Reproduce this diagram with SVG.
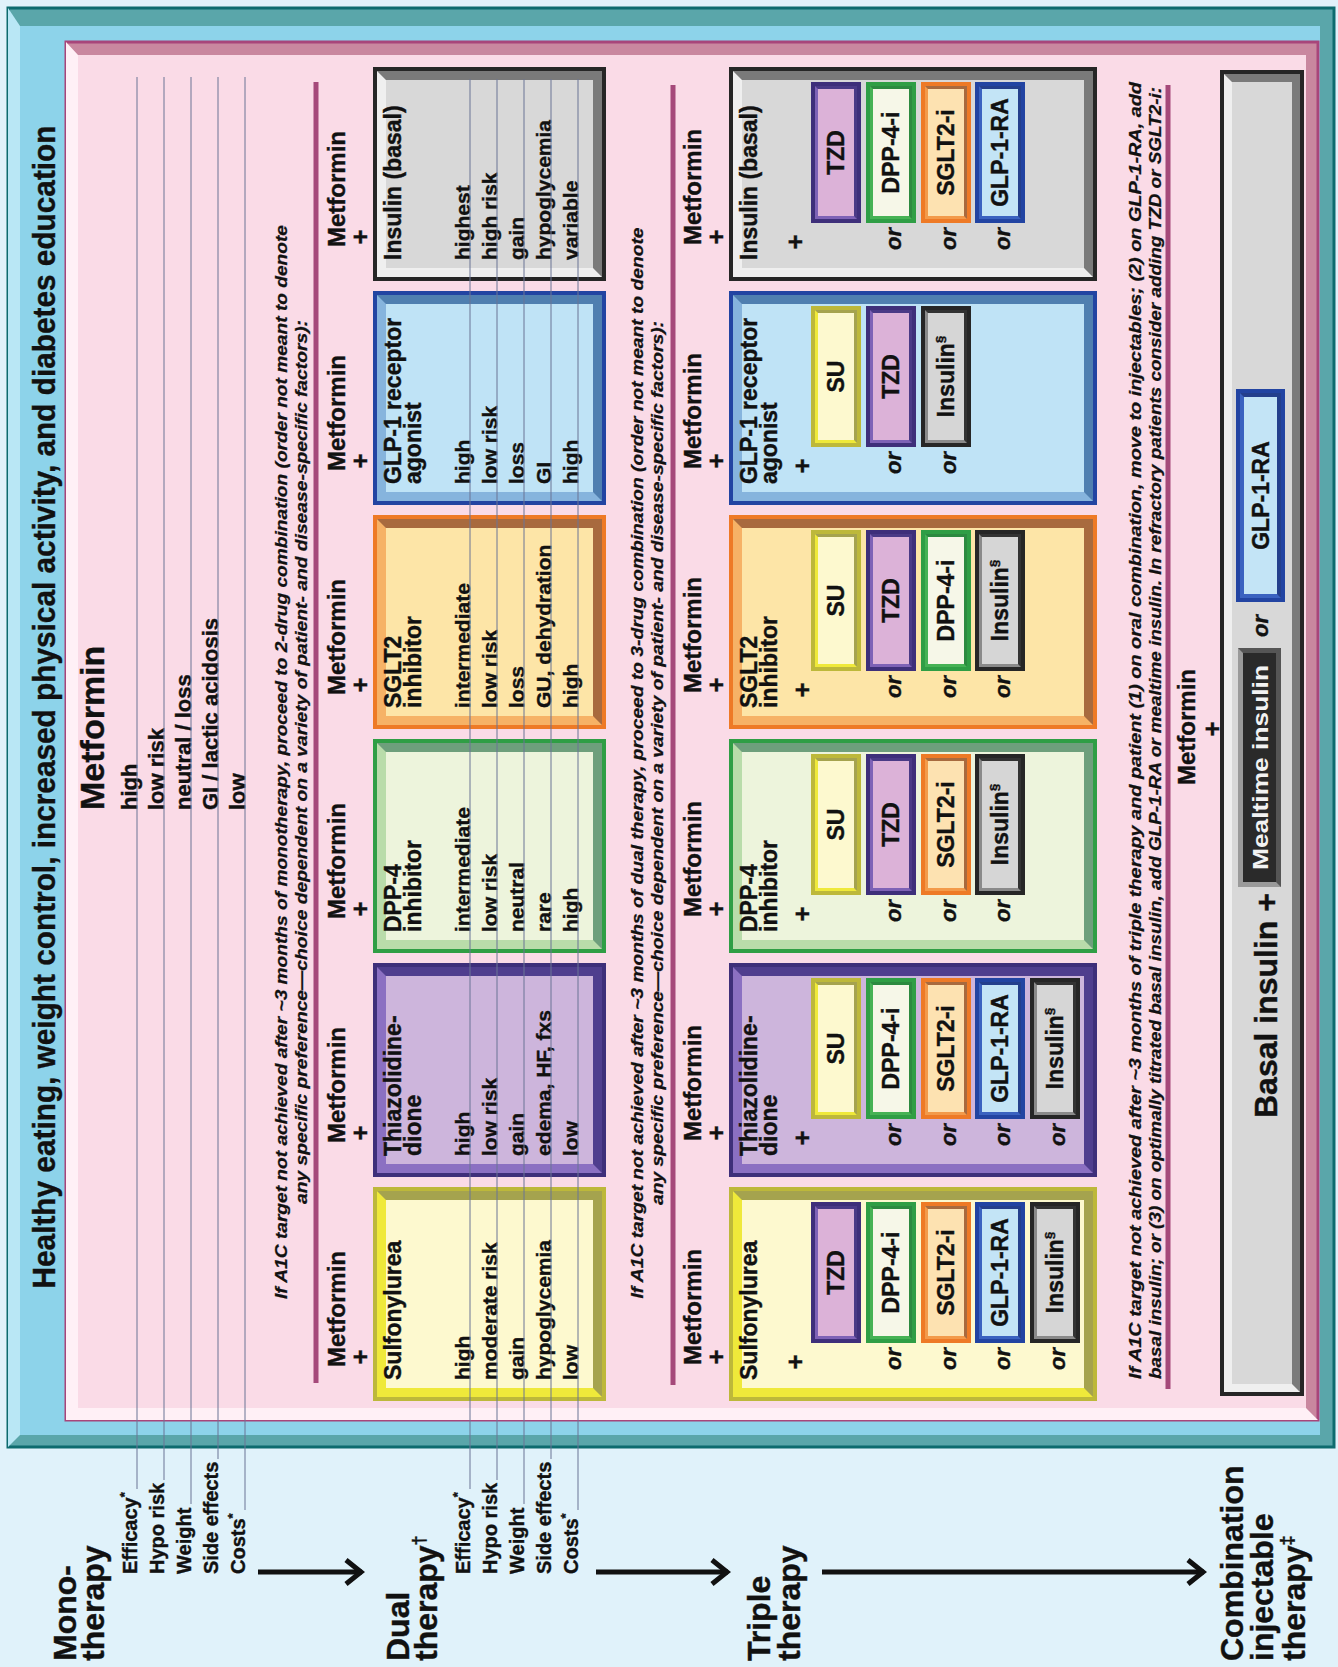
<svg xmlns="http://www.w3.org/2000/svg" width="1338" height="1667" viewBox="0 0 1338 1667">
<defs>
<style>
text{font-family:"Liberation Sans",Arial,Helvetica,sans-serif;font-weight:bold;fill:#111;stroke:#111;stroke-width:0.4}
.sec{font-size:32px}
.lab{font-size:20px}
.mv{font-size:22px}
.val{font-size:21px}
.ttl{font-size:23px}
.hd{font-size:24px}
.pl{font-size:26px;text-anchor:middle}
.sb{font-size:23px;text-anchor:middle}
.or{font-size:22px;font-style:italic;text-anchor:middle}
.note{font-size:17px;font-style:italic;stroke-width:0.25}
.gl{stroke:#6b7595;stroke-width:1;fill:none}
.sep{stroke:#a5497a;stroke-width:5}
.arr{stroke:#111;stroke-width:5;fill:none}
.b{fill:none;stroke-width:4}
.s .b{stroke-width:4}
.su .o{fill:#a5a34e}.su .l{fill:#efe93a}.su .i{fill:#fdf9cf}.su .b{stroke:#bdb83a}
.tzd .o{fill:#4f3e8e}.tzd .l{fill:#8b70c2}.tzd .i{fill:#cdb5dc}.tzd .b{stroke:#3e2f7a}
.dpp .o{fill:#6e9f7c}.dpp .l{fill:#b9dcaa}.dpp .i{fill:#edf4dc}.dpp .b{stroke:#2f9e45}
.sglt .o{fill:#a86a3e}.sglt .l{fill:#f6b266}.sglt .i{fill:#fde5a7}.sglt .b{stroke:#ee7a26}
.glp .o{fill:#4f7fb0}.glp .l{fill:#86b4dd}.glp .i{fill:#bfe3f6}.glp .b{stroke:#2244a2}
.ins .o{fill:#7a7a7a}.ins .l{fill:#efefef}.ins .i{fill:#d8d8d8}.ins .b{stroke:#262626}
.s.su .o{fill:#a5a34e}.s.su .l{fill:#efe93a}.s.su .i{fill:#fdf9cf}.s.su .b{stroke:#bdb83a}
.s.tzd .o{fill:#4a3a86}.s.tzd .l{fill:#7e62b6}.s.tzd .i{fill:#dcb2d8}.s.tzd .b{stroke:#3e2f7a}
.s.dpp .o{fill:#2c8a40}.s.dpp .l{fill:#46b255}.s.dpp .i{fill:#f6f7e8}.s.dpp .b{stroke:#2f9e45}
.s.sglt .o{fill:#a86a3e}.s.sglt .l{fill:#f39a4a}.s.sglt .i{fill:#fde2b1}.s.sglt .b{stroke:#ee7a26}
.s.glp .o{fill:#243f8c}.s.glp .l{fill:#3a62c0}.s.glp .i{fill:#c3e4f6}.s.glp .b{stroke:#2244a2}
.s.ins .o{fill:#333}.s.ins .l{fill:#8a8a8a}.s.ins .i{fill:#d6d6d6}.s.ins .b{stroke:#262626}
</style>
<marker id="ah" viewBox="0 0 24 28" refX="21" refY="14" markerWidth="24" markerHeight="28" markerUnits="userSpaceOnUse" orient="auto">
<path d="M5,2 L20,14 L5,26" fill="none" stroke="#111" stroke-width="5"/>
</marker>
</defs>
<rect x="0" y="0" width="1338" height="1667" fill="#e0f2fa"/>
<g transform="translate(0,1667) rotate(-90)">

<g id="frame">
<rect x="220" y="8" width="1439" height="1326" fill="#5aa6aa" stroke="#0d6b6e" stroke-width="3"/>
<polygon points="220,8 1659,8 1641,20 232,20" fill="#b9e7f5"/>
<rect x="232" y="20" width="1409" height="1300" fill="#8dd3ea"/>
<text x="960" y="55" text-anchor="middle" font-size="32" textLength="1163" lengthAdjust="spacingAndGlyphs">Healthy eating, weight control, increased physical activity, and diabetes education</text>
</g>
<g id="panel">
<rect x="247" y="66" width="1378" height="1252" fill="#c9879f" stroke="#a8457a" stroke-width="3"/>
<polygon points="247,66 1625,66 1612,78 259,78 259,1306 247,1318" fill="#fff0f6"/>
<rect x="259" y="78" width="1353" height="1228" fill="#fadbe7"/>
</g>

<g id="row-labels">
<text class="sec" x="6" y="76">Mono-</text>
<text class="sec" x="6" y="104">therapy</text>
<text class="lab" x="93" y="137">Efficacy<tspan font-size="13" dy="-8">*</tspan></text>
<text class="lab" x="93" y="164">Hypo risk</text>
<text class="lab" x="93" y="191">Weight</text>
<text class="lab" x="93" y="218">Side effects</text>
<text class="lab" x="93" y="245">Costs<tspan font-size="13" dy="-8">*</tspan></text>
<text class="sec" x="6" y="409">Dual</text>
<text class="sec" x="6" y="437">therapy<tspan font-size="18" dy="-12">†</tspan></text>
<text class="lab" x="93" y="470">Efficacy<tspan font-size="13" dy="-8">*</tspan></text>
<text class="lab" x="93" y="497">Hypo risk</text>
<text class="lab" x="93" y="524">Weight</text>
<text class="lab" x="93" y="551">Side effects</text>
<text class="lab" x="93" y="578">Costs<tspan font-size="13" dy="-8">*</tspan></text>
<text class="sec" x="6" y="770">Triple</text>
<text class="sec" x="6" y="800">therapy</text>
<text class="sec" x="6" y="1243">Combination</text>
<text class="sec" x="6" y="1273">injectable</text>
<text class="sec" x="6" y="1305">therapy<tspan font-size="18" dy="-12">‡</tspan></text>
</g>

<g id="mono">
<text x="857" y="104" font-size="34">Metformin</text>
<text class="mv" x="857" y="137">high</text>
<text class="mv" x="857" y="164">low risk</text>
<text class="mv" x="857" y="191">neutral / loss</text>
<text class="mv" x="857" y="218">GI / lactic acidosis</text>
<text class="mv" x="857" y="245">low</text>
</g>

<g id="dual-note">
<text class="note" x="905" y="287" text-anchor="middle" textLength="1074" lengthAdjust="spacingAndGlyphs">If A1C target not achieved after ~3 months of monotherapy, proceed to 2-drug combination (order not meant to denote</text>
<text class="note" x="905" y="307" text-anchor="middle" textLength="884" lengthAdjust="spacingAndGlyphs">any specific preference—choice dependent on a variety of patient- and disease-specific factors):</text>
<line class="sep" x1="284" y1="316" x2="1585" y2="316"/>
</g>

<g id="d-su" class="su">
<text class="hd" x="300" y="345">Metformin</text><text class="pl" x="310" y="369">+</text>
<rect class="o" x="268" y="375" width="210" height="229"/>
<polygon class="l" points="268,375 478,375 467,386 279,386 279,593 268,604"/>
<rect class="i" x="279" y="386" width="188" height="207"/>
<rect class="b" x="268" y="375" width="210" height="229"/>
<text class="ttl" x="287" y="401">Sulfonylurea</text>
<text class="val" x="287" y="470">high</text>
<text class="val" x="287" y="497">moderate risk</text>
<text class="val" x="287" y="524">gain</text>
<text class="val" x="287" y="551">hypoglycemia</text>
<text class="val" x="287" y="578">low</text>
</g>
<g id="d-tzd" class="tzd">
<text class="hd" x="524" y="345">Metformin</text><text class="pl" x="534" y="369">+</text>
<rect class="o" x="492" y="375" width="210" height="229"/>
<polygon class="l" points="492,375 702,375 691,386 503,386 503,593 492,604"/>
<rect class="i" x="503" y="386" width="188" height="207"/>
<rect class="b" x="492" y="375" width="210" height="229"/>
<text class="ttl" x="511" y="401">Thiazolidine-</text>
<text class="ttl" x="511" y="421">dione</text>
<text class="val" x="511" y="470">high</text>
<text class="val" x="511" y="497">low risk</text>
<text class="val" x="511" y="524">gain</text>
<text class="val" x="511" y="551">edema, HF, fxs</text>
<text class="val" x="511" y="578">low</text>
</g>
<g id="d-dpp" class="dpp">
<text class="hd" x="748" y="345">Metformin</text><text class="pl" x="758" y="369">+</text>
<rect class="o" x="716" y="375" width="210" height="229"/>
<polygon class="l" points="716,375 926,375 915,386 727,386 727,593 716,604"/>
<rect class="i" x="727" y="386" width="188" height="207"/>
<rect class="b" x="716" y="375" width="210" height="229"/>
<text class="ttl" x="735" y="401">DPP-4</text>
<text class="ttl" x="735" y="421">inhibitor</text>
<text class="val" x="735" y="470">intermediate</text>
<text class="val" x="735" y="497">low risk</text>
<text class="val" x="735" y="524">neutral</text>
<text class="val" x="735" y="551">rare</text>
<text class="val" x="735" y="578">high</text>
</g>
<g id="d-sglt" class="sglt">
<text class="hd" x="972" y="345">Metformin</text><text class="pl" x="982" y="369">+</text>
<rect class="o" x="940" y="375" width="210" height="229"/>
<polygon class="l" points="940,375 1150,375 1139,386 951,386 951,593 940,604"/>
<rect class="i" x="951" y="386" width="188" height="207"/>
<rect class="b" x="940" y="375" width="210" height="229"/>
<text class="ttl" x="959" y="401">SGLT2</text>
<text class="ttl" x="959" y="421">inhibitor</text>
<text class="val" x="959" y="470">intermediate</text>
<text class="val" x="959" y="497">low risk</text>
<text class="val" x="959" y="524">loss</text>
<text class="val" x="959" y="551">GU, dehydration</text>
<text class="val" x="959" y="578">high</text>
</g>
<g id="d-glp" class="glp">
<text class="hd" x="1196" y="345">Metformin</text><text class="pl" x="1206" y="369">+</text>
<rect class="o" x="1164" y="375" width="210" height="229"/>
<polygon class="l" points="1164,375 1374,375 1363,386 1175,386 1175,593 1164,604"/>
<rect class="i" x="1175" y="386" width="188" height="207"/>
<rect class="b" x="1164" y="375" width="210" height="229"/>
<text class="ttl" x="1183" y="401">GLP-1 receptor</text>
<text class="ttl" x="1183" y="421">agonist</text>
<text class="val" x="1183" y="470">high</text>
<text class="val" x="1183" y="497">low risk</text>
<text class="val" x="1183" y="524">loss</text>
<text class="val" x="1183" y="551">GI</text>
<text class="val" x="1183" y="578">high</text>
</g>
<g id="d-ins" class="ins">
<text class="hd" x="1420" y="345">Metformin</text><text class="pl" x="1430" y="369">+</text>
<rect class="o" x="1388" y="375" width="210" height="229"/>
<polygon class="l" points="1388,375 1598,375 1587,386 1399,386 1399,593 1388,604"/>
<rect class="i" x="1399" y="386" width="188" height="207"/>
<rect class="b" x="1388" y="375" width="210" height="229"/>
<text class="ttl" x="1407" y="401">Insulin (basal)</text>
<text class="val" x="1407" y="470">highest</text>
<text class="val" x="1407" y="497">high risk</text>
<text class="val" x="1407" y="524">gain</text>
<text class="val" x="1407" y="551">hypoglycemia</text>
<text class="val" x="1407" y="578">variable</text>
</g>

<g id="triple-note">
<text class="note" x="904" y="643" text-anchor="middle" textLength="1071" lengthAdjust="spacingAndGlyphs">If A1C target not achieved after ~3 months of dual therapy, proceed to 3-drug combination (order not meant to denote</text>
<text class="note" x="904" y="663" text-anchor="middle" textLength="884" lengthAdjust="spacingAndGlyphs">any specific preference—choice dependent on a variety of patient- and disease-specific factors):</text>
<line class="sep" x1="282" y1="673" x2="1582" y2="673"/>
</g>

<g id="t-su" class="su">
<text class="hd" x="302" y="701">Metformin</text><text class="pl" x="310" y="725">+</text>
<rect class="o" x="268" y="731" width="210" height="364"/>
<polygon class="l" points="268,731 478,731 467,742 279,742 279,1084 268,1095"/>
<rect class="i" x="279" y="742" width="188" height="342"/>
<rect class="b" x="268" y="731" width="210" height="364"/>
<text class="ttl" x="287" y="757">Sulfonylurea</text>
<text class="pl" x="305" y="804">+</text>
<text class="or" x="308" y="901">or</text><text class="or" x="308" y="956">or</text><text class="or" x="308" y="1010">or</text><text class="or" x="308" y="1065">or</text>
<g id="t-su-1" class="s tzd"><rect class="o" x="326" y="813" width="137" height="46"/><polygon class="l" points="326,813 463,813 458,818 331,818 331,854 326,859"/><rect class="i" x="331" y="818" width="127" height="36"/><rect class="b" x="326" y="813" width="137" height="46"/><text class="sb" x="394.5" y="844">TZD</text></g>
<g id="t-su-2" class="s dpp"><rect class="o" x="326" y="868" width="137" height="46"/><polygon class="l" points="326,868 463,868 458,873 331,873 331,909 326,914"/><rect class="i" x="331" y="873" width="127" height="36"/><rect class="b" x="326" y="868" width="137" height="46"/><text class="sb" x="394.5" y="899">DPP-4-i</text></g>
<g id="t-su-3" class="s sglt"><rect class="o" x="326" y="923" width="137" height="46"/><polygon class="l" points="326,923 463,923 458,928 331,928 331,964 326,969"/><rect class="i" x="331" y="928" width="127" height="36"/><rect class="b" x="326" y="923" width="137" height="46"/><text class="sb" x="394.5" y="954">SGLT2-i</text></g>
<g id="t-su-4" class="s glp"><rect class="o" x="326" y="977" width="137" height="46"/><polygon class="l" points="326,977 463,977 458,982 331,982 331,1018 326,1023"/><rect class="i" x="331" y="982" width="127" height="36"/><rect class="b" x="326" y="977" width="137" height="46"/><text class="sb" x="394.5" y="1008">GLP-1-RA</text></g>
<g id="t-su-5" class="s ins"><rect class="o" x="326" y="1032" width="137" height="46"/><polygon class="l" points="326,1032 463,1032 458,1037 331,1037 331,1073 326,1078"/><rect class="i" x="331" y="1037" width="127" height="36"/><rect class="b" x="326" y="1032" width="137" height="46"/><text class="sb" x="394.5" y="1063">Insulin<tspan font-size="13" dy="-9">§</tspan></text></g>
</g>

<g id="t-tzd" class="tzd">
<text class="hd" x="526" y="701">Metformin</text><text class="pl" x="534" y="725">+</text>
<rect class="o" x="492" y="731" width="210" height="364"/>
<polygon class="l" points="492,731 702,731 691,742 503,742 503,1084 492,1095"/>
<rect class="i" x="503" y="742" width="188" height="342"/>
<rect class="b" x="492" y="731" width="210" height="364"/>
<text class="ttl" x="511" y="757">Thiazolidine-</text>
<text class="ttl" x="511" y="777">dione</text>
<text class="pl" x="529" y="811">+</text>
<text class="or" x="532" y="901">or</text><text class="or" x="532" y="956">or</text><text class="or" x="532" y="1010">or</text><text class="or" x="532" y="1065">or</text>
<g id="t-tzd-1" class="s su"><rect class="o" x="550" y="813" width="137" height="46"/><polygon class="l" points="550,813 687,813 682,818 555,818 555,854 550,859"/><rect class="i" x="555" y="818" width="127" height="36"/><rect class="b" x="550" y="813" width="137" height="46"/><text class="sb" x="618.5" y="844">SU</text></g>
<g id="t-tzd-2" class="s dpp"><rect class="o" x="550" y="868" width="137" height="46"/><polygon class="l" points="550,868 687,868 682,873 555,873 555,909 550,914"/><rect class="i" x="555" y="873" width="127" height="36"/><rect class="b" x="550" y="868" width="137" height="46"/><text class="sb" x="618.5" y="899">DPP-4-i</text></g>
<g id="t-tzd-3" class="s sglt"><rect class="o" x="550" y="923" width="137" height="46"/><polygon class="l" points="550,923 687,923 682,928 555,928 555,964 550,969"/><rect class="i" x="555" y="928" width="127" height="36"/><rect class="b" x="550" y="923" width="137" height="46"/><text class="sb" x="618.5" y="954">SGLT2-i</text></g>
<g id="t-tzd-4" class="s glp"><rect class="o" x="550" y="977" width="137" height="46"/><polygon class="l" points="550,977 687,977 682,982 555,982 555,1018 550,1023"/><rect class="i" x="555" y="982" width="127" height="36"/><rect class="b" x="550" y="977" width="137" height="46"/><text class="sb" x="618.5" y="1008">GLP-1-RA</text></g>
<g id="t-tzd-5" class="s ins"><rect class="o" x="550" y="1032" width="137" height="46"/><polygon class="l" points="550,1032 687,1032 682,1037 555,1037 555,1073 550,1078"/><rect class="i" x="555" y="1037" width="127" height="36"/><rect class="b" x="550" y="1032" width="137" height="46"/><text class="sb" x="618.5" y="1063">Insulin<tspan font-size="13" dy="-9">§</tspan></text></g>
</g>

<g id="t-dpp" class="dpp">
<text class="hd" x="750" y="701">Metformin</text><text class="pl" x="758" y="725">+</text>
<rect class="o" x="716" y="731" width="210" height="364"/>
<polygon class="l" points="716,731 926,731 915,742 727,742 727,1084 716,1095"/>
<rect class="i" x="727" y="742" width="188" height="342"/>
<rect class="b" x="716" y="731" width="210" height="364"/>
<text class="ttl" x="735" y="757">DPP-4</text>
<text class="ttl" x="735" y="777">inhibitor</text>
<text class="pl" x="753" y="811">+</text>
<text class="or" x="756" y="901">or</text><text class="or" x="756" y="956">or</text><text class="or" x="756" y="1010">or</text>
<g id="t-dpp-1" class="s su"><rect class="o" x="774" y="813" width="137" height="46"/><polygon class="l" points="774,813 911,813 906,818 779,818 779,854 774,859"/><rect class="i" x="779" y="818" width="127" height="36"/><rect class="b" x="774" y="813" width="137" height="46"/><text class="sb" x="842.5" y="844">SU</text></g>
<g id="t-dpp-2" class="s tzd"><rect class="o" x="774" y="868" width="137" height="46"/><polygon class="l" points="774,868 911,868 906,873 779,873 779,909 774,914"/><rect class="i" x="779" y="873" width="127" height="36"/><rect class="b" x="774" y="868" width="137" height="46"/><text class="sb" x="842.5" y="899">TZD</text></g>
<g id="t-dpp-3" class="s sglt"><rect class="o" x="774" y="923" width="137" height="46"/><polygon class="l" points="774,923 911,923 906,928 779,928 779,964 774,969"/><rect class="i" x="779" y="928" width="127" height="36"/><rect class="b" x="774" y="923" width="137" height="46"/><text class="sb" x="842.5" y="954">SGLT2-i</text></g>
<g id="t-dpp-4" class="s ins"><rect class="o" x="774" y="977" width="137" height="46"/><polygon class="l" points="774,977 911,977 906,982 779,982 779,1018 774,1023"/><rect class="i" x="779" y="982" width="127" height="36"/><rect class="b" x="774" y="977" width="137" height="46"/><text class="sb" x="842.5" y="1008">Insulin<tspan font-size="13" dy="-9">§</tspan></text></g>
</g>

<g id="t-sglt" class="sglt">
<text class="hd" x="974" y="701">Metformin</text><text class="pl" x="982" y="725">+</text>
<rect class="o" x="940" y="731" width="210" height="364"/>
<polygon class="l" points="940,731 1150,731 1139,742 951,742 951,1084 940,1095"/>
<rect class="i" x="951" y="742" width="188" height="342"/>
<rect class="b" x="940" y="731" width="210" height="364"/>
<text class="ttl" x="959" y="757">SGLT2</text>
<text class="ttl" x="959" y="777">inhibitor</text>
<text class="pl" x="977" y="811">+</text>
<text class="or" x="980" y="901">or</text><text class="or" x="980" y="956">or</text><text class="or" x="980" y="1010">or</text>
<g id="t-sglt-1" class="s su"><rect class="o" x="998" y="813" width="137" height="46"/><polygon class="l" points="998,813 1135,813 1130,818 1003,818 1003,854 998,859"/><rect class="i" x="1003" y="818" width="127" height="36"/><rect class="b" x="998" y="813" width="137" height="46"/><text class="sb" x="1066.5" y="844">SU</text></g>
<g id="t-sglt-2" class="s tzd"><rect class="o" x="998" y="868" width="137" height="46"/><polygon class="l" points="998,868 1135,868 1130,873 1003,873 1003,909 998,914"/><rect class="i" x="1003" y="873" width="127" height="36"/><rect class="b" x="998" y="868" width="137" height="46"/><text class="sb" x="1066.5" y="899">TZD</text></g>
<g id="t-sglt-3" class="s dpp"><rect class="o" x="998" y="923" width="137" height="46"/><polygon class="l" points="998,923 1135,923 1130,928 1003,928 1003,964 998,969"/><rect class="i" x="1003" y="928" width="127" height="36"/><rect class="b" x="998" y="923" width="137" height="46"/><text class="sb" x="1066.5" y="954">DPP-4-i</text></g>
<g id="t-sglt-4" class="s ins"><rect class="o" x="998" y="977" width="137" height="46"/><polygon class="l" points="998,977 1135,977 1130,982 1003,982 1003,1018 998,1023"/><rect class="i" x="1003" y="982" width="127" height="36"/><rect class="b" x="998" y="977" width="137" height="46"/><text class="sb" x="1066.5" y="1008">Insulin<tspan font-size="13" dy="-9">§</tspan></text></g>
</g>

<g id="t-glp" class="glp">
<text class="hd" x="1198" y="701">Metformin</text><text class="pl" x="1206" y="725">+</text>
<rect class="o" x="1164" y="731" width="210" height="364"/>
<polygon class="l" points="1164,731 1374,731 1363,742 1175,742 1175,1084 1164,1095"/>
<rect class="i" x="1175" y="742" width="188" height="342"/>
<rect class="b" x="1164" y="731" width="210" height="364"/>
<text class="ttl" x="1183" y="757">GLP-1 receptor</text>
<text class="ttl" x="1183" y="777">agonist</text>
<text class="pl" x="1201" y="811">+</text>
<text class="or" x="1204" y="901">or</text><text class="or" x="1204" y="956">or</text>
<g id="t-glp-1" class="s su"><rect class="o" x="1222" y="813" width="137" height="46"/><polygon class="l" points="1222,813 1359,813 1354,818 1227,818 1227,854 1222,859"/><rect class="i" x="1227" y="818" width="127" height="36"/><rect class="b" x="1222" y="813" width="137" height="46"/><text class="sb" x="1290.5" y="844">SU</text></g>
<g id="t-glp-2" class="s tzd"><rect class="o" x="1222" y="868" width="137" height="46"/><polygon class="l" points="1222,868 1359,868 1354,873 1227,873 1227,909 1222,914"/><rect class="i" x="1227" y="873" width="127" height="36"/><rect class="b" x="1222" y="868" width="137" height="46"/><text class="sb" x="1290.5" y="899">TZD</text></g>
<g id="t-glp-3" class="s ins"><rect class="o" x="1222" y="923" width="137" height="46"/><polygon class="l" points="1222,923 1359,923 1354,928 1227,928 1227,964 1222,969"/><rect class="i" x="1227" y="928" width="127" height="36"/><rect class="b" x="1222" y="923" width="137" height="46"/><text class="sb" x="1290.5" y="954">Insulin<tspan font-size="13" dy="-9">§</tspan></text></g>
</g>

<g id="t-ins" class="ins">
<text class="hd" x="1422" y="701">Metformin</text><text class="pl" x="1430" y="725">+</text>
<rect class="o" x="1388" y="731" width="210" height="364"/>
<polygon class="l" points="1388,731 1598,731 1587,742 1399,742 1399,1084 1388,1095"/>
<rect class="i" x="1399" y="742" width="188" height="342"/>
<rect class="b" x="1388" y="731" width="210" height="364"/>
<text class="ttl" x="1407" y="757">Insulin (basal)</text>
<text class="pl" x="1425" y="804">+</text>
<text class="or" x="1428" y="901">or</text><text class="or" x="1428" y="956">or</text><text class="or" x="1428" y="1010">or</text>
<g id="t-ins-1" class="s tzd"><rect class="o" x="1446" y="813" width="137" height="46"/><polygon class="l" points="1446,813 1583,813 1578,818 1451,818 1451,854 1446,859"/><rect class="i" x="1451" y="818" width="127" height="36"/><rect class="b" x="1446" y="813" width="137" height="46"/><text class="sb" x="1514.5" y="844">TZD</text></g>
<g id="t-ins-2" class="s dpp"><rect class="o" x="1446" y="868" width="137" height="46"/><polygon class="l" points="1446,868 1583,868 1578,873 1451,873 1451,909 1446,914"/><rect class="i" x="1451" y="873" width="127" height="36"/><rect class="b" x="1446" y="868" width="137" height="46"/><text class="sb" x="1514.5" y="899">DPP-4-i</text></g>
<g id="t-ins-3" class="s sglt"><rect class="o" x="1446" y="923" width="137" height="46"/><polygon class="l" points="1446,923 1583,923 1578,928 1451,928 1451,964 1446,969"/><rect class="i" x="1451" y="928" width="127" height="36"/><rect class="b" x="1446" y="923" width="137" height="46"/><text class="sb" x="1514.5" y="954">SGLT2-i</text></g>
<g id="t-ins-4" class="s glp"><rect class="o" x="1446" y="977" width="137" height="46"/><polygon class="l" points="1446,977 1583,977 1578,982 1451,982 1451,1018 1446,1023"/><rect class="i" x="1451" y="982" width="127" height="36"/><rect class="b" x="1446" y="977" width="137" height="46"/><text class="sb" x="1514.5" y="1008">GLP-1-RA</text></g>
</g>

<g id="combo-note">
<text class="note" x="288" y="1141" textLength="1297" lengthAdjust="spacingAndGlyphs">If A1C target not achieved after ~3 months of triple therapy and patient (1) on oral combination, move to injectables; (2) on GLP-1-RA, add</text>
<text class="note" x="288" y="1161" textLength="1292" lengthAdjust="spacingAndGlyphs">basal insulin; or (3) on optimally titrated basal insulin, add GLP-1-RA or mealtime insulin. In refractory patients consider adding TZD or SGLT2-i:</text>
<line class="sep" x1="278" y1="1168" x2="1582" y2="1168"/>
</g>

<g id="combo" class="ins">
<text class="hd" x="940" y="1195" text-anchor="middle">Metformin</text>
<text class="pl" x="938" y="1221">+</text>
<rect class="o" x="273" y="1222" width="1322" height="80"/>
<polygon class="l" points="273,1222 1595,1222 1585,1232 283,1232 283,1292 273,1302"/>
<rect class="i" x="283" y="1232" width="1302" height="60"/>
<rect class="b" x="273" y="1222" width="1322" height="80"/>
<text x="549" y="1277" font-size="32">Basal insulin +</text>
<g id="mealtime">
<rect x="780" y="1238" width="239" height="43" fill="#555"/>
<polygon points="780,1238 1019,1238 1014,1243 785,1243 785,1276 780,1281" fill="#9a9a9a"/>
<rect x="785" y="1243" width="229" height="33" fill="#2a2a2a"/>
<text x="899.5" y="1268" font-size="22" text-anchor="middle" textLength="205" lengthAdjust="spacingAndGlyphs" style="fill:#f2f2f2;stroke:none">Mealtime insulin</text>
</g>
<text class="or" x="1041" y="1268" font-size="24">or</text>
<g id="combo-glp" class="s glp">
<rect class="o" x="1067" y="1238" width="209" height="45"/>
<polygon class="l" points="1067,1238 1276,1238 1270,1244 1073,1244 1073,1277 1067,1283"/>
<rect class="i" x="1073" y="1244" width="197" height="33"/>
<rect class="b" x="1067" y="1238" width="209" height="45"/>
<text class="sb" x="1171.5" y="1269" font-size="24">GLP-1-RA</text>
</g>
</g>

<g id="connectors">
<g id="guides">
<path class="gl" d="M178,137H1590M187,164H1590M163,191H1590M208,218H1590M157,245H1590"/>
<path class="gl" d="M178,470H1588M187,497H1588M163,524H1588M208,551H1588M157,578H1588"/>
</g>
<line class="arr" x1="95" y1="258" x2="95" y2="362" marker-end="url(#ah)"/>
<line class="arr" x1="95" y1="596" x2="95" y2="728" marker-end="url(#ah)"/>
<line class="arr" x1="95" y1="822" x2="95" y2="1204" marker-end="url(#ah)"/>
</g>

</g>
</svg>
